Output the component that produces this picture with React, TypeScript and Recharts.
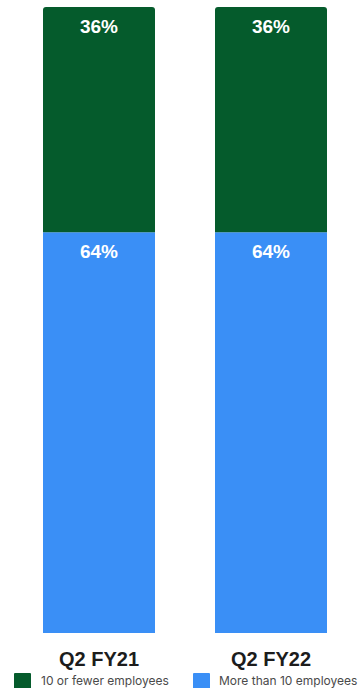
import React from "react";
import { BarChart, Bar, XAxis, YAxis, Legend, LabelList } from "recharts";

const categories = ["Q2 FY21", "Q2 FY22"];
const fewerValues = [36, 36];
const moreValues = [64, 64];
const seriesNames = ["10 or fewer employees", "More than 10 employees"];

const GREEN = "#055b2c";
const BLUE = "#3a8ff6";

const data = categories.map((c, i) => ({
  name: c,
  more: moreValues[i],
  fewer: fewerValues[i],
}));

const Tick = (props: any) => {
  const { x, y, payload } = props;
  return (
    <text x={x} y={y} dy={25} textAnchor="middle" fill="#1c1c1c" fontSize={20} fontWeight={700} fontFamily="Liberation Sans">
      {payload.value}
    </text>
  );
};

const LegendContent = () => {
  const items = [
    { name: seriesNames[0], color: GREEN, x: 14, tx: 41 },
    { name: seriesNames[1], color: BLUE, x: 193, tx: 219 },
  ];
  return (
    <svg width={362} height={16} style={{ display: "block" }}>
      {items.map((it) => (
        <g key={it.name}>
          <rect x={it.x} y={0} width={17} height={17} rx={1} fill={it.color} />
          <text x={it.tx} y={12} fontSize={12} fill="#4a4a4a" fontFamily="Inter">
            {it.name}
          </text>
        </g>
      ))}
    </svg>
  );
};

const renderLabel = (props: any) => {
  const { x, y, width, value } = props;
  return (
    <text x={x + width / 2} y={y + 26} textAnchor="middle" fill="#ffffff" fontSize={19} fontWeight={700} fontFamily="Liberation Sans">
      {value}%
    </text>
  );
};

export default function App() {
  return (
    <div style={{ position: "absolute", left: 0, top: 0, width: 362, height: 688, background: "#fff" }}>
      <BarChart
        width={362}
        height={688}
        data={data}
        margin={{ top: 7, right: 5, bottom: 0, left: 13 }}
        barSize={112}
      >
        <XAxis dataKey="name" axisLine={false} tickLine={false} height={40} tick={<Tick />} interval={0} />
        <YAxis hide domain={[0, 100]} />
        <Legend
          verticalAlign="bottom"
          height={15}
          content={<LegendContent />}
          wrapperStyle={{ left: 0, width: 362, bottom: 0 }}
        />
        <Bar dataKey="more" stackId="a" fill={BLUE} name={seriesNames[1]} isAnimationActive={false}>
          <LabelList dataKey="more" content={renderLabel} />
        </Bar>
        <Bar dataKey="fewer" stackId="a" fill={GREEN} name={seriesNames[0]} radius={[3, 3, 0, 0]} isAnimationActive={false}>
          <LabelList dataKey="fewer" content={renderLabel} />
        </Bar>
      </BarChart>
    </div>
  );
}
